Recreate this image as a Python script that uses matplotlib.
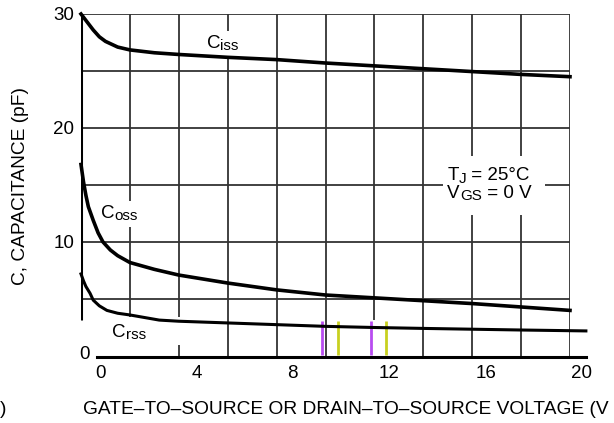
import matplotlib
matplotlib.use('Agg')
import matplotlib.pyplot as plt
from matplotlib.patches import Rectangle
from matplotlib.transforms import ScaledTranslation, Bbox

plt.rcParams['font.family'] = ['Liberation Sans', 'DejaVu Sans']

# ---- data ----
v_ciss = [0, 0.25, 0.5, 0.75, 1, 1.5, 2, 3, 4, 6, 8, 10, 12, 14, 16, 18, 20]
ciss = [30, 29.3, 28.6, 28.0, 27.6, 27.1, 26.85, 26.6, 26.45, 26.2, 26.0, 25.7, 25.45, 25.2, 24.95, 24.7, 24.5]

v_coss = [0, 0.1, 0.2, 0.3, 0.5, 0.7, 0.9, 1.2, 1.5, 2, 3, 4, 6, 8, 10, 12, 14, 16, 18, 20]
coss = [16.8, 15.3, 14.1, 13.1, 11.9, 10.8, 10.0, 9.3, 8.8, 8.2, 7.6, 7.1, 6.4, 5.8, 5.35, 5.1, 4.85, 4.6, 4.3, 4.0]

v_crss = [0, 0.1, 0.2, 0.37, 0.5, 0.75, 1.06, 1.5, 2, 3.2, 4, 6, 8, 10, 12, 14, 16, 18, 20.65]
crss = [7.2, 6.6, 6.1, 5.5, 4.9, 4.4, 4.0, 3.75, 3.6, 3.15, 3.05, 2.9, 2.75, 2.6, 2.5, 2.42, 2.35, 2.28, 2.2]

x_ticks = [0, 4, 8, 12, 16, 20]
x_ticklabels = ['0', '4', '8', '12', '16', '20']
y_ticks = [10, 20, 30]
y_ticklabels = ['10', '20', '30']

grid_v = [2, 4, 6, 8, 10, 12, 14, 16, 18, 20]
grid_v_bottom = [3.4, 3.4, 0, 0, 0, 3.2, 0, 0, 0, 0]
grid_h = [5, 10, 15, 20, 25, 30]

W, H = 614, 423
fig = plt.figure(figsize=(W / 100, H / 100), dpi=100)
renderer = fig.canvas.get_renderer()


def px(x0, y0, x1, y1):
    return [x0 / W, 1 - y1 / H, (x1 - x0) / W, (y1 - y0) / H]


ax = fig.add_axes(px(81, 14, 570, 356))
ax.set_xlim(0, 20)
ax.set_ylim(0, 30)
ax.patch.set_visible(False)
for s in ax.spines.values():
    s.set_visible(False)
ax.set_xticks([])
ax.set_yticks(y_ticks)
ax.set_yticklabels(y_ticklabels)
ax.tick_params(axis='y', length=0, pad=5, labelsize=13.5)

gcol = '#333333'
ax.hlines(grid_h, 0, 20, colors=gcol, lw=1.3, zorder=1)
for gv, gb in zip(grid_v, grid_v_bottom):
    ax.vlines(gv, gb, 30, colors=gcol, lw=1.3, zorder=1)
ax.vlines(4, 0, 1.0, colors=gcol, lw=1.3, zorder=1)
ax.vlines(0, 3.2, 30, colors='black', lw=2.2, zorder=2)

# white box behind condition text
ax.add_patch(Rectangle((14.8, 12.4), 4.18, 5.1, facecolor='white', edgecolor='none', zorder=2))

# curves
ax.plot(v_ciss, ciss, color='black', lw=2.6, zorder=5, clip_on=False)
ax.plot(v_coss, coss, color='black', lw=2.6, zorder=5, clip_on=False)
ax.plot(v_crss, crss, color='black', lw=2.2, zorder=5, clip_on=False)

# scan artifacts
ax.vlines([9.86, 11.86], 0.1, 3.1, colors='#b84cf0', lw=2, zorder=4)
ax.vlines([10.5, 12.47], 0.1, 3.1, colors='#c8d020', lw=2, zorder=4)


def sub_label(x, y, main, sub, rest='', size=13.5, subsize=11, drop=2, box=False):
    kw = dict(va='baseline', ha='left', zorder=3)
    t1 = ax.text(x, y, main, fontsize=size, **kw)
    b1 = t1.get_window_extent(renderer)
    t2 = ax.annotate(sub, (x, y), xytext=(b1.width, -drop), textcoords='offset pixels',
                     fontsize=subsize, **kw)
    b2 = t2.get_window_extent(renderer)
    if rest:
        ax.annotate(rest, (x, y), xytext=(b1.width + b2.width, 0), textcoords='offset pixels',
                    fontsize=size, **kw)
    if box:
        bb = Bbox.union([b1, b2]).padded(4)
        d = ax.transData.inverted().transform(bb.get_points())
        ax.add_patch(Rectangle(tuple(d[0]), d[1][0] - d[0][0], d[1][1] - d[0][1],
                               facecolor='white', edgecolor='none', zorder=2.5))


sub_label(5.15, 27.0, 'C', 'iss', box=True)
sub_label(0.8, 12.1, 'C', 'oss', box=True)
sub_label(1.28, 1.67, 'C', 'rss')
sub_label(14.98, 15.44, 'T', 'J', ' = 25\u00b0C', drop=3)
sub_label(14.98, 13.86, 'V', 'GS', ' = 0 V', drop=2)

# bottom axis (offset, as in the scan)
ax2 = fig.add_axes(px(97, 14, 586, 357))
ax2.patch.set_visible(False)
ax2.set_xlim(-0.1245, 20.166)
ax2.set_ylim(0, 30)
for k, s in ax2.spines.items():
    s.set_visible(k == 'bottom')
ax2.spines['bottom'].set_linewidth(2.2)
ax2.set_xticks(x_ticks)
ax2.set_xticklabels(x_ticklabels)
ax2.set_yticks([0])
ax2.set_yticklabels(['0'])
ax2.tick_params(axis='x', length=0, pad=6, labelsize=13.5)
ax2.tick_params(axis='y', length=0, pad=5, labelsize=13.5)
for lab in ax2.get_yticklabels():
    lab.set_transform(lab.get_transform() + ScaledTranslation(0, 5 / 100, fig.dpi_scale_trans))

fig.text(21 / W, 1 - 186 / H, 'C, CAPACITANCE (pF)', rotation=90, ha='center', va='center', fontsize=13.8)
fig.text(83 / W, 1 - 414 / H, 'GATE\u2013TO\u2013SOURCE OR DRAIN\u2013TO\u2013SOURCE VOLTAGE (V',
         ha='left', va='baseline', fontsize=13.8)
fig.text(0 / W, 1 - 414 / H, ')', ha='left', va='baseline', fontsize=13.8)

fig.savefig('out.png', dpi=100)
